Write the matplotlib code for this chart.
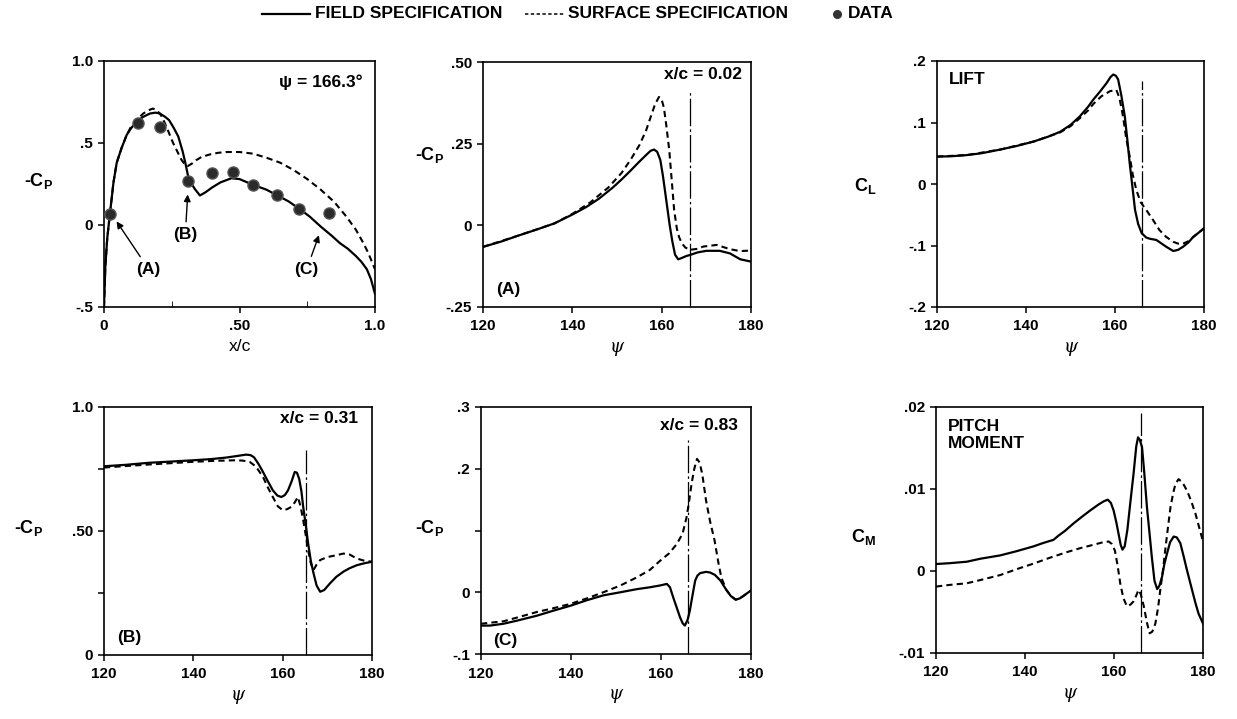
import matplotlib
matplotlib.use("Agg")
from matplotlib import pyplot as plt
from matplotlib.lines import Line2D

plt.rcParams["font.family"] = ["Liberation Sans", "DejaVu Sans"]
plt.rcParams["font.weight"] = "bold"
plt.rcParams["font.size"] = 11
plt.rcParams["mathtext.fontset"] = "custom"
plt.rcParams["mathtext.rm"] = "Liberation Sans:bold"
plt.rcParams["mathtext.it"] = "Liberation Sans:bold"
plt.rcParams["mathtext.bf"] = "Liberation Sans:bold"

# --- chordwise -Cp at psi = 166.3 deg ---
xc_field = [0, 0.005, 0.012, 0.022, 0.035, 0.047, 0.065, 0.084, 0.10, 0.12, 0.145, 0.17, 0.19,
            0.206, 0.225, 0.24, 0.258, 0.274, 0.29, 0.30, 0.31, 0.32, 0.335, 0.354, 0.375, 0.40,
            0.43, 0.47, 0.50, 0.55, 0.60, 0.64, 0.68, 0.72, 0.76, 0.80, 0.84, 0.87, 0.90, 0.93,
            0.95, 0.97, 0.985, 0.995, 1.0]
cp_field = [-0.50, -0.25, -0.08, 0.07, 0.26, 0.38, 0.47, 0.55, 0.59, 0.63, 0.66, 0.68, 0.685,
            0.68, 0.66, 0.64, 0.59, 0.54, 0.45, 0.38, 0.30, 0.26, 0.22, 0.18, 0.20, 0.23,
            0.26, 0.285, 0.28, 0.245, 0.215, 0.18, 0.145, 0.10, 0.05, -0.01, -0.065, -0.11,
            -0.145, -0.19, -0.225, -0.27, -0.33, -0.39, -0.42]
xc_surf = [0, 0.005, 0.012, 0.022, 0.035, 0.047, 0.065, 0.084, 0.10, 0.12, 0.145, 0.165, 0.18,
           0.195, 0.21, 0.225, 0.24, 0.255, 0.27, 0.285, 0.30, 0.31, 0.325, 0.34, 0.36, 0.39,
           0.42, 0.45, 0.50, 0.55, 0.60, 0.65, 0.70, 0.75, 0.80, 0.85, 0.895, 0.93, 0.957,
           0.975, 0.99, 1.0]
cp_surf = [-0.50, -0.25, -0.08, 0.07, 0.26, 0.38, 0.47, 0.55, 0.60, 0.64, 0.68, 0.70, 0.71,
           0.70, 0.67, 0.62, 0.56, 0.50, 0.45, 0.40, 0.365, 0.36, 0.375, 0.395, 0.415, 0.43,
           0.44, 0.445, 0.445, 0.435, 0.41, 0.38, 0.335, 0.28, 0.215, 0.14, 0.05, -0.03, -0.11,
           -0.17, -0.23, -0.27]
xc_data = [0.022, 0.127, 0.207, 0.31, 0.40, 0.475, 0.55, 0.64, 0.72, 0.83]
cp_data = [0.065, 0.62, 0.60, 0.27, 0.315, 0.325, 0.244, 0.18, 0.10, 0.075]

# --- -Cp vs psi at x/c = 0.02 (A) ---
psi_a_field = [120, 124, 128, 132, 136, 140, 143, 146, 149, 151, 153, 155, 156.5, 157.5, 158.3,
               159, 159.7, 160.3, 160.8, 161.3, 161.8, 162.4, 163, 163.7, 164.5, 165.5, 166.3,
               168, 170, 173, 175.3, 177.6, 180]
cp_a_field = [-0.066, -0.05, -0.031, -0.013, 0.006, 0.033, 0.055, 0.082, 0.115, 0.14, 0.167,
              0.195, 0.215, 0.228, 0.232, 0.225, 0.20, 0.15, 0.10, 0.05, 0.0, -0.05, -0.09,
              -0.104, -0.10, -0.094, -0.091, -0.083, -0.078, -0.078, -0.086, -0.104, -0.111]
psi_a_surf = [120, 128, 136, 140, 144, 148, 151, 153, 155, 156.5, 157.5, 158.5, 159.4, 160,
              160.5, 161, 161.7, 162.3, 162.8, 163.4, 163.9, 164.5, 165.3, 166.3, 168, 169.3,
              172.3, 175.3, 177.6, 180]
cp_a_surf = [-0.066, -0.031, 0.006, 0.035, 0.07, 0.115, 0.16, 0.20, 0.245, 0.29, 0.33, 0.37,
             0.393, 0.385, 0.36, 0.31, 0.23, 0.13, 0.046, -0.01, -0.036, -0.055, -0.068, -0.075,
             -0.072, -0.065, -0.06, -0.073, -0.079, -0.077]

# --- lift coefficient ---
psi_l_field = [120, 123, 126.7, 130, 134.2, 138, 141.7, 145, 147.7, 150, 152.1, 154, 155.1,
               156.6, 158.1, 159, 159.6, 160.2, 160.7, 161.4, 162.2, 162.8, 163.3, 164, 164.5,
               165.2, 166, 167, 167.8, 169.3, 170.5, 171.5, 173.1, 174.2, 175.3, 176.5, 177.6,
               179, 180]
cl_field = [0.0446, 0.045, 0.047, 0.050, 0.056, 0.062, 0.069, 0.077, 0.085, 0.096, 0.11, 0.126,
            0.137, 0.15, 0.164, 0.174, 0.178, 0.176, 0.17, 0.145, 0.11, 0.07, 0.034, -0.01,
            -0.042, -0.065, -0.08, -0.087, -0.089, -0.091, -0.097, -0.102, -0.109, -0.107,
            -0.102, -0.095, -0.086, -0.078, -0.072]
psi_l_surf = [120, 126.7, 134.2, 141.7, 147.7, 150, 152.1, 154, 155.1, 157, 158.9, 160.3, 161,
              161.8, 162.5, 163.3, 164, 164.8, 165.8, 167, 168.5, 170, 171.5, 173.1, 174.2,
              175.3, 176.5, 177.6, 179, 180]
cl_surf = [0.0446, 0.047, 0.056, 0.069, 0.084, 0.094, 0.107, 0.12, 0.13, 0.143, 0.151, 0.153,
           0.14, 0.11, 0.075, 0.045, 0.015, -0.01, -0.03, -0.042, -0.058, -0.075, -0.086,
           -0.094, -0.097, -0.097, -0.093, -0.086, -0.078, -0.072]

# --- -Cp vs psi at x/c = 0.31 (B) ---
psi_b_field = [120, 125, 130, 135, 139.8, 144, 147.3, 150, 151.8, 152.8, 153.6, 154.6, 155.6,
               156.7, 157.8, 158.8, 159.7, 160.5, 161.2, 162, 162.7, 163.2, 163.7, 164.2, 164.6,
               165.2, 165.7, 166.3, 166.9, 167.6, 168.4, 169.3, 170.6, 172, 173.6, 175, 176.6,
               178.3, 180]
cp_b_field = [0.761, 0.767, 0.775, 0.780, 0.785, 0.790, 0.796, 0.803, 0.808, 0.806, 0.797,
              0.77, 0.738, 0.70, 0.664, 0.643, 0.637, 0.645, 0.664, 0.70, 0.738, 0.735, 0.71,
              0.66, 0.597, 0.52, 0.45, 0.38, 0.33, 0.28, 0.255, 0.262, 0.289, 0.315, 0.336,
              0.35, 0.362, 0.37, 0.376]
psi_b_surf = [120, 130, 140, 145, 149, 151, 152.6, 154, 155.6, 156.7, 157.8, 158.9, 160, 161,
              161.9, 162.7, 163.4, 164, 164.6, 165.2, 165.7, 166.3, 166.9, 167.6, 168.4, 170,
              171.4, 173.6, 175, 176.6, 178.3, 180]
cp_b_surf = [0.756, 0.768, 0.779, 0.783, 0.785, 0.784, 0.779, 0.76, 0.718, 0.675, 0.637, 0.60,
             0.584, 0.588, 0.597, 0.615, 0.637, 0.60, 0.543, 0.48, 0.423, 0.37, 0.342, 0.365,
             0.383, 0.395, 0.40, 0.409, 0.405, 0.389, 0.38, 0.376]

# --- -Cp vs psi at x/c = 0.83 (C) ---
psi_c_field = [120, 122, 125, 128, 132.4, 136, 139.8, 143.5, 147.2, 151, 154.6, 157.5, 159.8,
               161.3, 162, 162.7, 163.5, 164.2, 164.8, 165.3, 165.9, 166.4, 167, 167.6, 168.1,
               168.7, 170, 170.9, 172, 173.2, 174.5, 175.5, 176.6, 177.5, 178.5, 180]
cp_c_field = [-0.054, -0.054, -0.051, -0.046, -0.038, -0.03, -0.022, -0.013, -0.005, 0.0,
              0.005, 0.008, 0.011, 0.0135, 0.008, -0.008, -0.025, -0.04, -0.05, -0.054, -0.045,
              -0.03, -0.005, 0.019, 0.027, 0.031, 0.033, 0.032, 0.028, 0.019, 0.004, -0.006,
              -0.012, -0.010, -0.005, 0.003]
psi_c_surf = [120, 125, 128, 132.4, 136, 139.8, 143.5, 147.2, 151, 154.6, 157.5, 159.8, 161.8,
              163.5, 164.8, 165.7, 166.3, 166.8, 167.4, 168, 168.6, 169.2, 170, 170.9, 171.9,
              172.7, 173.4, 174.5, 175.5, 176.6, 177.5, 178.5, 180]
cp_c_surf = [-0.051, -0.047, -0.041, -0.032, -0.026, -0.019, -0.01, 0.0, 0.011, 0.024, 0.036,
             0.051, 0.063, 0.078, 0.095, 0.122, 0.15, 0.176, 0.20, 0.216, 0.21, 0.19, 0.149,
             0.115, 0.084, 0.05, 0.024, 0.004, -0.006, -0.012, -0.010, -0.005, 0.003]

# --- pitching moment ---
psi_m_field = [120, 123, 126.9, 130, 134.4, 138, 141.9, 144, 146.4, 147.5, 149, 150.9, 153,
               154.7, 156.5, 157.7, 158.6, 159.3, 159.9, 160.5, 161, 161.5, 161.9, 162.4, 163,
               163.7, 164.4, 165, 165.4, 165.8, 166.3, 166.8, 167.4, 168, 168.5, 169.1, 169.7,
               170.2, 170.8, 171.3, 171.9, 172.6, 173.4, 174.1, 174.9, 175.6, 176.4, 177.3,
               178.3, 179, 180]
cm_field = [0.00085, 0.00095, 0.00113, 0.0015, 0.0019, 0.0024, 0.003, 0.0034, 0.0038, 0.0043,
            0.0049, 0.0058, 0.0067, 0.0074, 0.0081, 0.0085, 0.0087, 0.0083, 0.0074, 0.006,
            0.0046, 0.0032, 0.0026, 0.003, 0.005, 0.0085, 0.0119, 0.0152, 0.0163, 0.016,
            0.0151, 0.012, 0.0078, 0.0045, 0.0017, -0.0012, -0.0022, -0.0018, -0.0007, 0.0008,
            0.0021, 0.0035, 0.0042, 0.0041, 0.0034, 0.0019, 0.0001, -0.0018, -0.0039, -0.0052,
            -0.0064]
psi_m_surf = [120, 123, 126.9, 130, 134.4, 138, 141.9, 145.5, 149.4, 152.5, 155.4, 157.5, 158.8,
              159.5, 160.2, 160.8, 161.4, 162.1, 162.9, 163.7, 164.4, 165, 165.5, 166, 166.7,
              167.4, 168, 168.6, 169.3, 169.9, 170.4, 171, 171.5, 172.1, 172.7, 173.3, 173.8,
              174.5, 175.4, 176.4, 177.3, 178.3, 179.2, 180]
cm_surf = [-0.0019, -0.0017, -0.0015, -0.0011, -0.0005, 0.0002, 0.0009, 0.0016, 0.0023, 0.0028,
           0.0032, 0.0035, 0.0036, 0.0033, 0.0025, 0.0007, -0.0015, -0.0033, -0.0043, -0.0041,
           -0.0037, -0.003, -0.0023, -0.0028, -0.0043, -0.0063, -0.0076, -0.0074, -0.0064,
           -0.0045, -0.0023, 0.0001, 0.0025, 0.0052, 0.0078, 0.0095, 0.0106, 0.0112, 0.0108,
           0.0098, 0.0086, 0.007, 0.0052, 0.0036]

# azimuth of the chordwise cut, marked in each psi panel
psi_cut = [166.3, 166.0, 165.3, 166.1, 166.1]
cut_top = [0.413, 0.167, 0.828, 0.246, 0.0193]

W, H = 1237, 719
SOLID = dict(color="black", lw=1.6, linestyle="-")
DASH = dict(color="black", lw=1.5, linestyle=(0, (3, 2)))
CUT = dict(color="black", lw=0.9, linestyle=(0, (22, 2.5, 2, 2.5)))
INNER = 12.5   # size of the text written inside the panels


def box(fig, l, t, r, b):
    ax = fig.add_axes([l / W, 1 - b / H, (r - l) / W, (b - t) / H])
    for s in ax.spines.values():
        s.set_linewidth(1.2)
    ax.tick_params(direction="out", length=4, width=1.1, labelsize=11, pad=4)
    ax.tick_params(axis="x", pad=5)
    return ax


def ylab(ax, txt, x, y):
    ax.set_ylabel(txt, rotation=0, fontsize=13, fontweight="bold")
    ax.yaxis.set_label_coords(x, y)


def psi_axis(ax):
    ax.set_xlim(120, 180)
    ax.set_xticks([120, 140, 160, 180])
    ax.set_xticklabels(["120", "140", "160", "180"])
    ax.set_xlabel("ψ", fontsize=13, labelpad=3, family="DejaVu Serif", style="italic",
                  fontweight="normal")


fig = plt.figure(figsize=(W / 100, H / 100), dpi=100)

# legend across the top
ly = 1 - 14 / H
fig.add_artist(Line2D([262 / W, 310 / W], [ly, ly], transform=fig.transFigure, **SOLID))
fig.text(315 / W, ly, "FIELD SPECIFICATION", va="center", ha="left", fontsize=12.5)
fig.add_artist(Line2D([525 / W, 565 / W], [ly, ly], transform=fig.transFigure,
                      color="black", lw=1.1, linestyle=(0, (2.2, 1.6))))
fig.text(568 / W, ly, "SURFACE SPECIFICATION", va="center", ha="left", fontsize=12.5)
fig.add_artist(Line2D([837 / W], [ly], transform=fig.transFigure, marker="o",
                      markersize=5.5, color="#333333", linestyle="none"))
fig.text(848 / W, ly, "DATA", va="center", ha="left", fontsize=12.5)

# (1) chordwise distribution
ax1 = box(fig, 104, 61, 375, 307)
ax1.plot(xc_field, cp_field, **SOLID)
ax1.plot(xc_surf, cp_surf, **DASH)
ax1.plot(xc_data, cp_data, "o", ms=8, mfc="#2a2a2a", mec="#555555", mew=1, zorder=5)
ax1.set_xlim(0, 1.0)
ax1.set_ylim(-0.5, 1.0)
ax1.set_xticks([0, 0.5, 1.0])
ax1.set_xticklabels(["0", ".50", "1.0"])
ax1.set_xticks([0.25, 0.75], minor=True)
ax1.tick_params(axis="x", which="minor", direction="in", length=4)
ax1.set_yticks([-0.5, 0, 0.5, 1.0])
ax1.set_yticklabels(["-.5", "0", ".5", "1.0"])
ax1.set_xlabel("x/c", fontsize=12.5, labelpad=4)
ylab(ax1, "-C$_\\mathrm{P}$", -0.24, 0.47)
ax1.text(0.956, 0.915, "ψ = 166.3°", transform=ax1.transAxes, ha="right", va="center",
         fontsize=INNER)
arr = dict(arrowstyle="-|>", color="black", lw=1.0, mutation_scale=10, shrinkA=2, shrinkB=4)
ax1.annotate("(A)", xy=(0.035, 0.05), xytext=(0.165, -0.27), ha="center", va="center",
             arrowprops=arr, fontsize=INNER)
ax1.annotate("(B)", xy=(0.31, 0.22), xytext=(0.30, -0.06), ha="center", va="center",
             arrowprops=arr, fontsize=INNER)
ax1.annotate("(C)", xy=(0.80, -0.03), xytext=(0.748, -0.27), ha="center", va="center",
             arrowprops=arr, fontsize=INNER)

# (2) x/c = 0.02
ax2 = box(fig, 483, 62, 751, 307)
ax2.plot(psi_a_field, cp_a_field, **SOLID)
ax2.plot(psi_a_surf, cp_a_surf, **DASH)
ax2.vlines(psi_cut[0], -0.25, cut_top[0], **CUT)
ax2.set_ylim(-0.25, 0.5)
ax2.set_yticks([-0.25, 0, 0.25, 0.5])
ax2.set_yticklabels(["-.25", "0", ".25", ".50"])
psi_axis(ax2)
ylab(ax2, "-C$_\\mathrm{P}$", -0.20, 0.58)
ax2.text(0.966, 0.947, "x/c = 0.02", transform=ax2.transAxes, ha="right", va="center",
         fontsize=INNER)
ax2.text(0.05, 0.07, "(A)", transform=ax2.transAxes, ha="left", va="center", fontsize=INNER)

# (3) lift
ax3 = box(fig, 937, 61, 1204, 307)
ax3.plot(psi_l_field, cl_field, **SOLID)
ax3.plot(psi_l_surf, cl_surf, **DASH)
ax3.vlines(psi_cut[1], -0.2, cut_top[1], **CUT)
ax3.set_ylim(-0.2, 0.2)
ax3.set_yticks([-0.2, -0.1, 0, 0.1, 0.2])
ax3.set_yticklabels(["-.2", "-.1", "0", ".1", ".2"])
psi_axis(ax3)
ylab(ax3, "C$_\\mathrm{L}$", -0.27, 0.45)
ax3.text(0.045, 0.923, "LIFT", transform=ax3.transAxes, ha="left", va="center", fontsize=INNER)

# (4) x/c = 0.31
ax4 = box(fig, 104, 407, 372, 655)
ax4.plot(psi_b_field, cp_b_field, **SOLID)
ax4.plot(psi_b_surf, cp_b_surf, **DASH)
ax4.vlines(psi_cut[2], 0, cut_top[2], **CUT)
ax4.set_ylim(0, 1.0)
ax4.set_yticks([0, 0.25, 0.5, 0.75, 1.0])
ax4.set_yticklabels(["0", "", ".50", "", "1.0"])
psi_axis(ax4)
ylab(ax4, "-C$_\\mathrm{P}$", -0.28, 0.47)
ax4.text(0.948, 0.955, "x/c = 0.31", transform=ax4.transAxes, ha="right", va="center",
         fontsize=INNER)
ax4.text(0.05, 0.07, "(B)", transform=ax4.transAxes, ha="left", va="center", fontsize=INNER)

# (5) x/c = 0.83
ax5 = box(fig, 481, 407, 751, 654)
ax5.plot(psi_c_field, cp_c_field, **SOLID)
ax5.plot(psi_c_surf, cp_c_surf, **DASH)
ax5.vlines(psi_cut[3], -0.1, cut_top[3], **CUT)
ax5.set_ylim(-0.1, 0.3)
ax5.set_yticks([-0.1, 0, 0.1, 0.2, 0.3])
ax5.set_yticklabels(["-.1", "0", "", ".2", ".3"])
psi_axis(ax5)
ylab(ax5, "-C$_\\mathrm{P}$", -0.19, 0.47)
ax5.text(0.952, 0.927, "x/c = 0.83", transform=ax5.transAxes, ha="right", va="center",
         fontsize=INNER)
ax5.text(0.044, 0.055, "(C)", transform=ax5.transAxes, ha="left", va="center", fontsize=INNER)

# (6) pitch moment
ax6 = box(fig, 936, 407, 1203, 653)
ax6.plot(psi_m_field, cm_field, **SOLID)
ax6.plot(psi_m_surf, cm_surf, **DASH)
ax6.vlines(psi_cut[4], -0.01, cut_top[4], **CUT)
ax6.set_ylim(-0.01, 0.02)
ax6.set_yticks([-0.01, 0, 0.01, 0.02])
ax6.set_yticklabels(["-.01", "0", ".01", ".02"])
psi_axis(ax6)
ylab(ax6, "C$_\\mathrm{M}$", -0.27, 0.43)
ax6.text(0.045, 0.95, "PITCH\nMOMENT", transform=ax6.transAxes, ha="left", va="top",
         linespacing=1.1, fontsize=INNER)

fig.savefig("out.png", dpi=100)
